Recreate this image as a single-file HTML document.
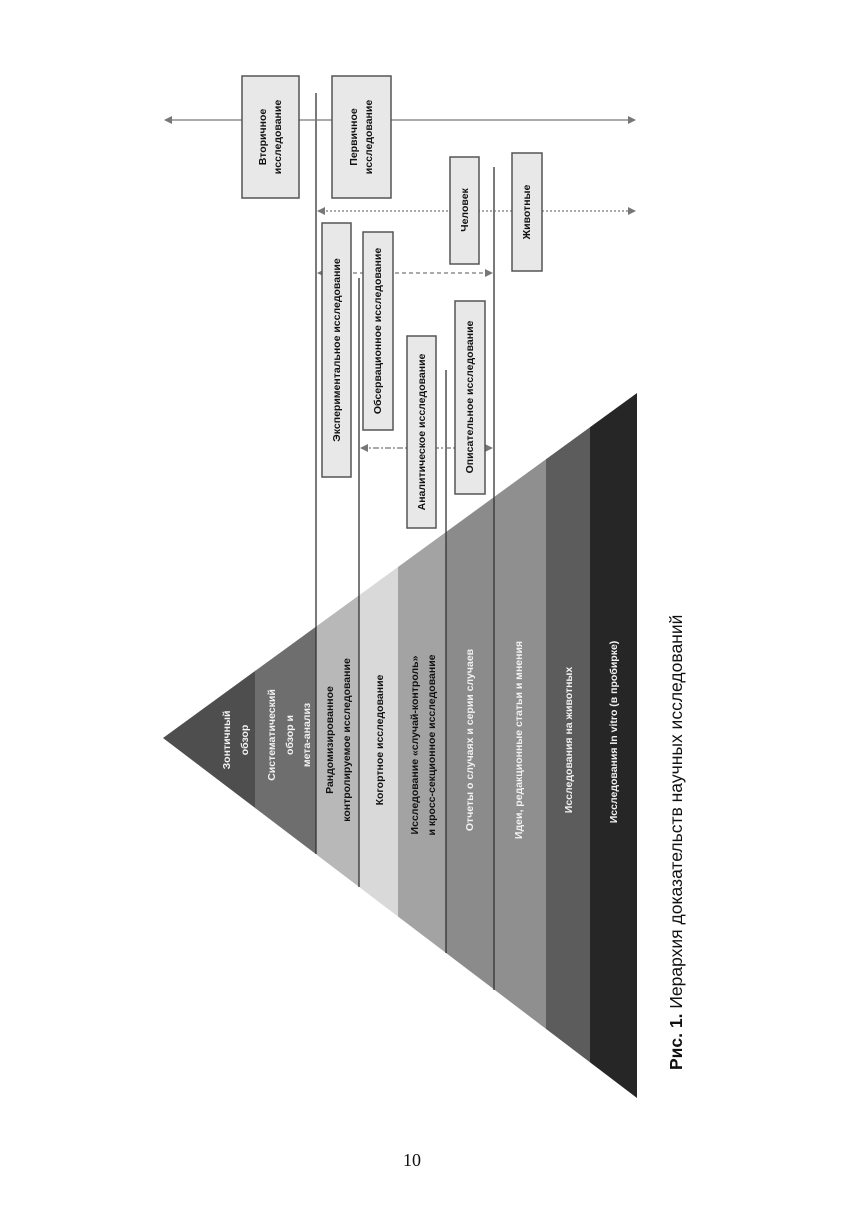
<!DOCTYPE html>
<html><head><meta charset="utf-8"><style>body{margin:0;background:#fff}svg{display:block}</style></head>
<body>
<svg width="857" height="1211" viewBox="0 0 857 1211" xmlns="http://www.w3.org/2000/svg" font-family="'Liberation Sans', sans-serif">
<defs>
<clipPath id="tri"><polygon points="163,738 637,393 637,1098"/></clipPath>
<marker id="ah" markerWidth="8" markerHeight="8" refX="7" refY="4" orient="auto-start-reverse" markerUnits="userSpaceOnUse"><path d="M0,0 L8,4 L0,8 z" fill="#777"/></marker>
</defs>
<rect width="857" height="1211" fill="#fff"/>
<g clip-path="url(#tri)">
<rect x="160" y="380" width="96" height="730" fill="#4e4e4e"/>
<rect x="255" y="380" width="61" height="730" fill="#6e6e6e"/>
<rect x="316" y="380" width="43" height="730" fill="#b8b8b8"/>
<rect x="359" y="380" width="39" height="730" fill="#d9d9d9"/>
<rect x="398" y="380" width="48" height="730" fill="#a3a3a3"/>
<rect x="446" y="380" width="48" height="730" fill="#8b8b8b"/>
<rect x="494" y="380" width="52" height="730" fill="#8f8f8f"/>
<rect x="546" y="380" width="44" height="730" fill="#5c5c5c"/>
<rect x="590" y="380" width="50" height="730" fill="#262626"/>
</g>
<g stroke="#333" stroke-width="1.3">
<line x1="316" y1="93" x2="316" y2="854"/>
<line x1="359" y1="278" x2="359" y2="887"/>
<line x1="446" y1="370" x2="446" y2="953"/>
<line x1="494" y1="167" x2="494" y2="990"/>
</g>
<g stroke="#777" stroke-width="1.3" fill="none">
<line x1="165" y1="120" x2="635" y2="120" marker-start="url(#ah)" marker-end="url(#ah)"/>
<line x1="318" y1="211" x2="635" y2="211" stroke-dasharray="2,2" marker-start="url(#ah)" marker-end="url(#ah)"/>
<line x1="318" y1="273" x2="492" y2="273" stroke-dasharray="4,3" marker-start="url(#ah)" marker-end="url(#ah)"/>
<line x1="361" y1="448" x2="492" y2="448" stroke-dasharray="6,2,2,2" marker-start="url(#ah)" marker-end="url(#ah)"/>
</g>
<g fill="#e8e8e8" stroke="#555" stroke-width="1.5">
<rect x="242" y="76" width="57" height="122"/>
<rect x="332" y="76" width="59" height="122"/>
<rect x="450" y="157" width="29" height="107"/>
<rect x="512" y="153" width="30" height="118"/>
<rect x="322" y="223" width="29" height="254"/>
<rect x="363" y="232" width="30" height="198"/>
<rect x="407" y="336" width="29" height="192"/>
<rect x="455" y="301" width="30" height="193"/>
</g>
<g font-size="10.5" font-weight="bold" fill="#111" text-anchor="middle" dominant-baseline="central">
<text transform="translate(263,137) rotate(-90)">Вторичное</text>
<text transform="translate(278,137) rotate(-90)">исследование</text>
<text transform="translate(354,137) rotate(-90)">Первичное</text>
<text transform="translate(369,137) rotate(-90)">исследование</text>
<text transform="translate(465,210) rotate(-90)">Человек</text>
<text transform="translate(527,212) rotate(-90)">Животные</text>
<text transform="translate(337,350) rotate(-90)">Экспериментальное исследование</text>
<text transform="translate(378,331) rotate(-90)">Обсервационное исследование</text>
<text transform="translate(422,432) rotate(-90)">Аналитическое исследование</text>
<text transform="translate(470,397) rotate(-90)">Описательное исследование</text>
</g>
<g font-size="10.5" font-weight="bold" text-anchor="middle" dominant-baseline="central">
<g fill="#f2f2f2">
<text transform="translate(227,740) rotate(-90)">Зонтичный</text>
<text transform="translate(245,740) rotate(-90)">обзор</text>
<text transform="translate(272,735) rotate(-90)">Систематический</text>
<text transform="translate(290,735) rotate(-90)">обзор и</text>
<text transform="translate(307,735) rotate(-90)">мета-анализ</text>
<text transform="translate(470,740) rotate(-90)">Отчеты о случаях и серии случаев</text>
<text transform="translate(519,740) rotate(-90)">Идеи, редакционные статьи и мнения</text>
<text transform="translate(569,740) rotate(-90)">Исследования на животных</text>
<text transform="translate(614,732) rotate(-90)">Исследования In vitro (в пробирке)</text>
</g>
<g fill="#111">
<text transform="translate(330,740) rotate(-90)">Рандомизированное</text>
<text transform="translate(347,740) rotate(-90)">контролируемое исследование</text>
<text transform="translate(380,740) rotate(-90)">Когортное исследование</text>
<text transform="translate(415,745) rotate(-90)">Исследование «случай-контроль»</text>
<text transform="translate(432,745) rotate(-90)">и кросс-секционное исследование</text>
</g>
</g>
<text transform="translate(676,1070) rotate(-90)" font-size="17.5" fill="#111" dominant-baseline="central"><tspan font-weight="bold">Рис. 1.</tspan> Иерархия доказательств научных исследований</text>
<text x="412" y="1166" font-family="'Liberation Serif', serif" font-size="18" text-anchor="middle" fill="#111">10</text>
</svg>
</body></html>
